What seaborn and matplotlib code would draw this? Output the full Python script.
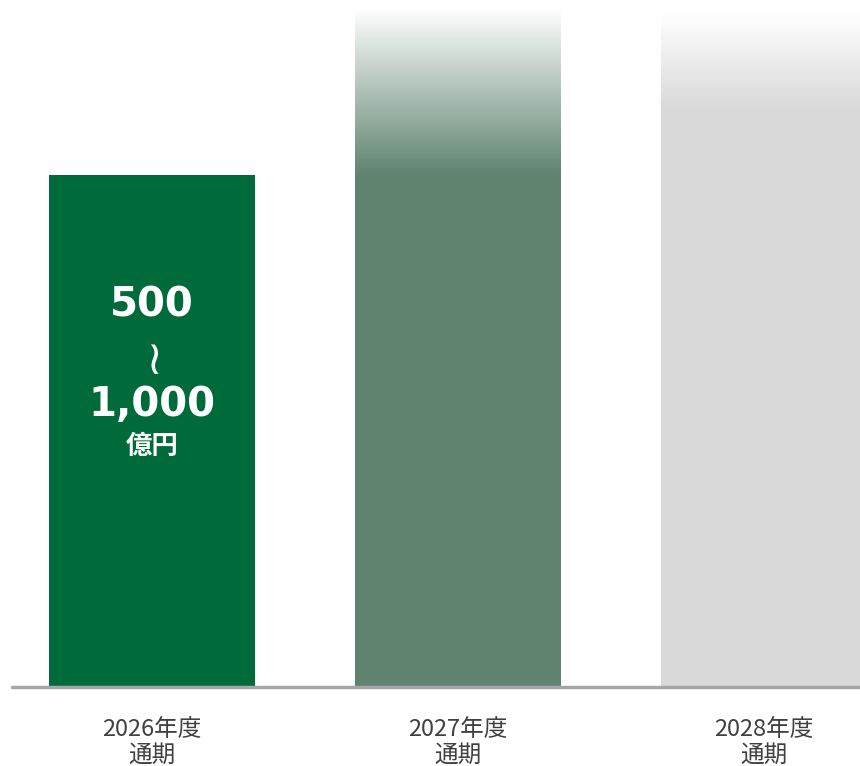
import numpy as np
import pandas as pd
import seaborn as sns
import matplotlib.pyplot as plt
from matplotlib.colors import to_rgb

# data
periods = ['2026年度\n通期', '2027年度\n通期', '2028年度\n通期']
solid_top = [1000, 1000, 1127]      # top of the solid part of each bar
fade_top = [1000, 1328, 1322]       # top of the faded (uncertain) part
bar_colors = ['#006b3a', '#5f836f', '#d9d9d9']
range_low, range_high, unit = '500', '1,000', '億円'

sns.set_theme(style='white')
plt.rcParams['font.family'] = ['DejaVu Sans', 'Noto Sans CJK JP']

df = pd.DataFrame({'period': periods, 'value': solid_top})

fig = plt.figure(figsize=(8.6, 7.66), dpi=100)
ax = fig.add_axes([0, 79 / 766, 1, 687 / 766])

width = 0.676
sns.barplot(data=df, x='period', y='value', hue='period', palette=bar_colors,
            width=width, saturation=1, legend=False, linewidth=0, ax=ax)

# faded tops: thin stacked slices, colour -> white going upward
n = 120
for i, (lo, hi, c) in enumerate(zip(solid_top, fade_top, bar_colors)):
    if hi <= lo:
        continue
    edges = np.linspace(lo, hi, n + 1)
    alphas = np.linspace(1, 0, n)
    rgb = np.array(to_rgb(c))
    cols = [tuple(rgb * a + (1 - a)) for a in alphas]
    ax.bar([i] * n, np.diff(edges), bottom=edges[:-1], width=width,
           color=cols, linewidth=0, antialiased=False, zorder=2)

ax.set_xlim(-0.497, 2.314)
ax.set_ylim(0, 1342)

# range label inside first bar
v = solid_top[0]
ax.text(0, v * 0.745, range_low, ha='center', va='center', color='white',
        fontsize=29, fontweight='bold', zorder=3)
ax.text(0, v * 0.652, '~', ha='center', va='center', color='white',
        fontsize=34, rotation=90, zorder=3)
ax.text(0, v * 0.55, range_high, ha='center', va='center', color='white',
        fontsize=29, fontweight='bold', zorder=3)
ax.text(0, v * 0.47, unit, ha='center', va='center', color='white',
        fontsize=19, fontweight='bold', family=['Noto Sans CJK JP'], zorder=3)

# baseline
ax.axhline(0, xmin=12 / 860, xmax=1, color='#a6a6a6', lw=2.5, zorder=4, clip_on=False)

ax.set_xticks(range(len(periods)))
ax.set_xticklabels(periods, fontsize=17, color='#404040', linespacing=1.2,
                   family=['Noto Sans CJK JP'])
ax.tick_params(axis='x', length=0, pad=22)
ax.set_yticks([])
ax.set_xlabel('')
ax.set_ylabel('')
sns.despine(ax=ax, left=True, bottom=True, top=True, right=True)

fig.savefig('out.png', dpi=100)
